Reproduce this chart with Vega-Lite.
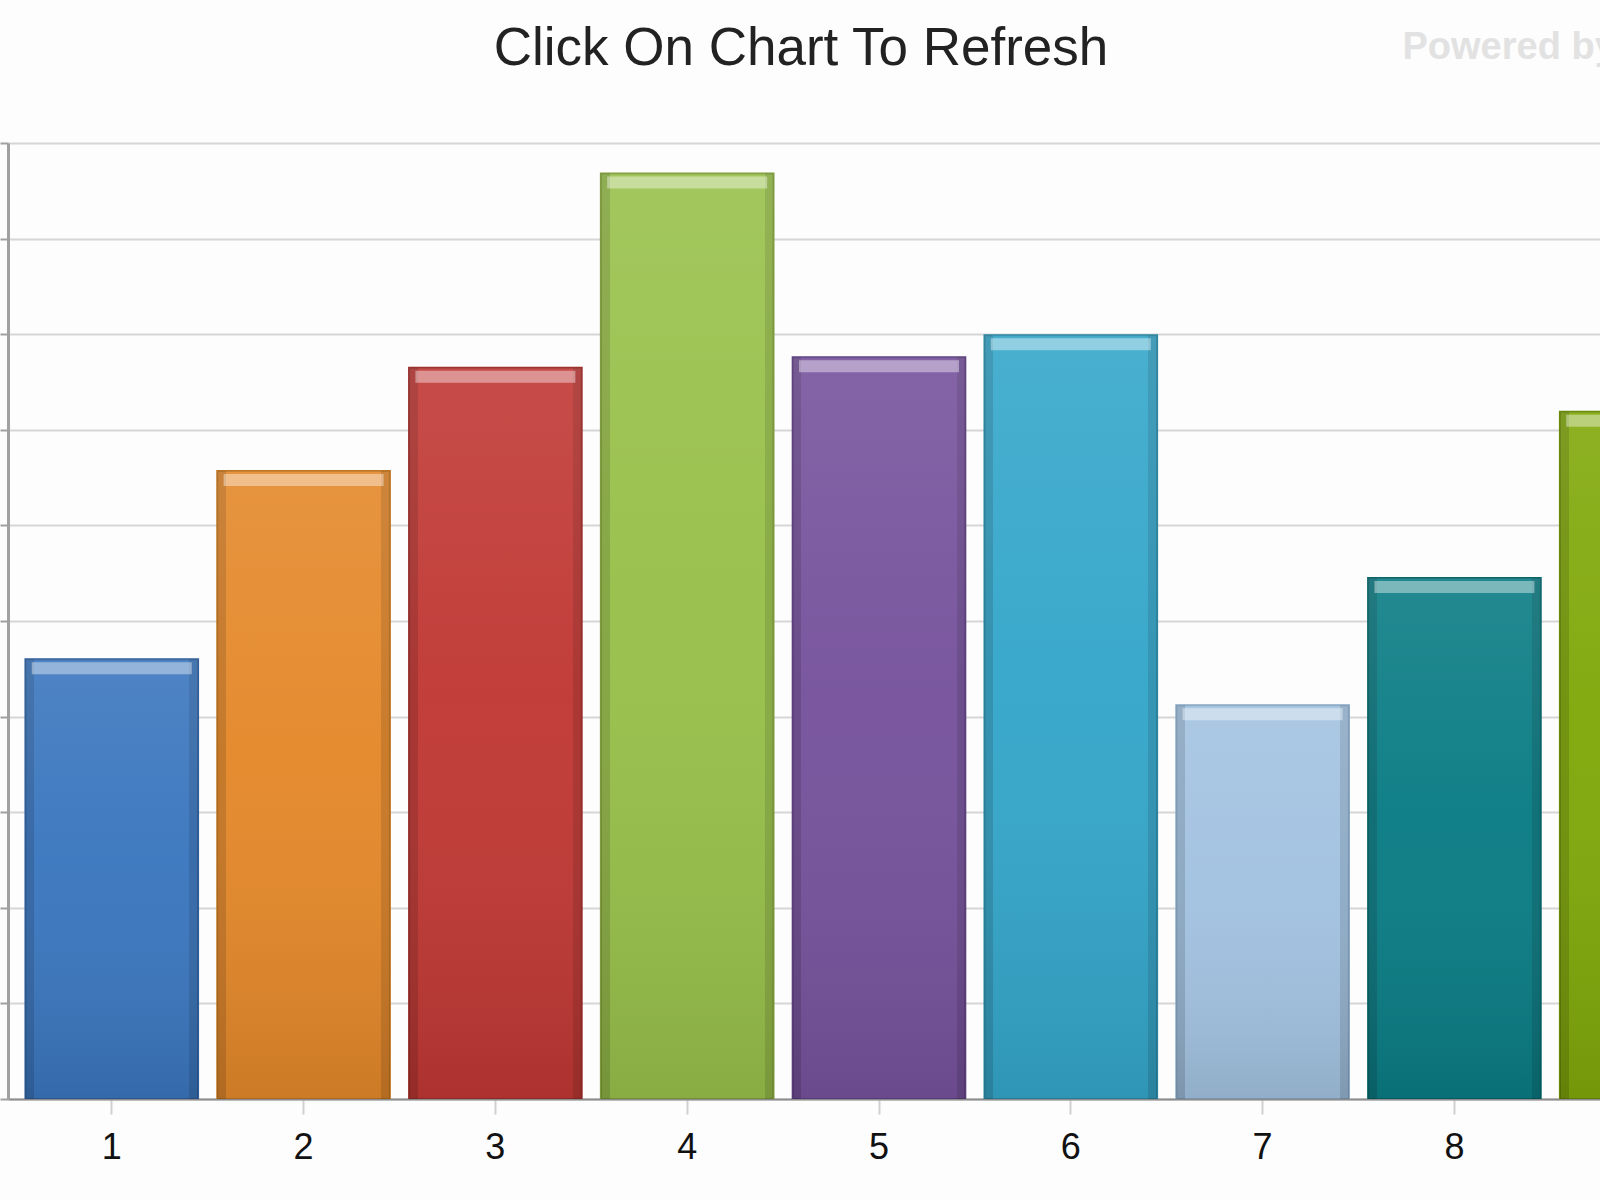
{
  "$schema": "https://vega.github.io/schema/vega-lite/v6.json",
  "autosize": {"type": "none"},
  "width": 1592,
  "height": 956,
  "padding": {"left": 8, "top": 143, "right": 0, "bottom": 101},
  "background": "#fdfdfd",
  "title": {
    "text": "Click On Chart To Refresh",
    "anchor": "middle",
    "font": "Liberation Sans",
    "fontSize": 53,
    "fontWeight": "normal",
    "color": "#222222",
    "dx": -3,
    "dy": 52
  },
  "data": {
    "values": [
      {"item": "1", "value": 46},
      {"item": "2", "value": 65.7},
      {"item": "3", "value": 76.5},
      {"item": "4", "value": 96.8},
      {"item": "5", "value": 77.6},
      {"item": "6", "value": 79.9},
      {"item": "7", "value": 41.2},
      {"item": "8", "value": 54.5},
      {"item": "9", "value": 71.9}
    ]
  },
  "encoding": {
    "x": {
      "field": "item",
      "type": "nominal",
      "sort": null,
      "scale": {"range": [0, 1742], "paddingInner": 0.1, "paddingOuter": 0.091},
      "axis": {
        "title": null,
        "labelAngle": 0,
        "labelFont": "Liberation Sans",
        "labelFontSize": 36,
        "labelColor": "#111111",
        "labelPadding": 16,
        "domainColor": "#8c8c8c",
        "domainWidth": 2,
        "tickColor": "#d0d0d0",
        "tickSize": 15,
        "tickWidth": 2
      }
    },
    "y": {
      "field": "value",
      "type": "quantitative",
      "scale": {"domain": [0, 100], "nice": false},
      "axis": {
        "title": "Powered by",
        "titleAngle": 0,
        "titleAlign": "left",
        "titleBaseline": "middle",
        "titleX": 1394,
        "titleY": -96,
        "titleFont": "Liberation Sans",
        "titleFontSize": 38,
        "titleFontWeight": "bold",
        "titleColor": "#e2e2e2",
        "tickCount": 10,
        "labels": false,
        "domainColor": "#a0a0a0",
        "domainWidth": 3,
        "tickColor": "#a0a0a0",
        "tickSize": 8,
        "tickWidth": 2,
        "gridColor": "#d6d6d6",
        "gridWidth": 2
      }
    }
  },
  "layer": [
    {
      "mark": {"type": "bar", "strokeWidth": 2, "clip": true},
      "encoding": {
        "fill": {
          "field": "item",
          "type": "nominal",
          "legend": null,
          "scale": {
            "domain": ["1", "2", "3", "4", "5", "6", "7", "8", "9"],
            "range": ["#3a76be", "#e4882a", "#c03834", "#98c04a", "#76529c", "#34a6ca", "#a2c2e0", "#0a7c84", "#80a80a"]
          }
        },
        "stroke": {
          "field": "item",
          "type": "nominal",
          "legend": null,
          "scale": {
            "domain": ["1", "2", "3", "4", "5", "6", "7", "8", "9"],
            "range": ["#2e5f9c", "#c0741e", "#9c2e2a", "#7f9f3c", "#5e4082", "#2a88a6", "#86a6c4", "#07656b", "#6a8a06"]
          }
        }
      }
    },
    {
      "mark": {
        "type": "bar",
        "clip": true,
        "fill": {
          "gradient": "linear",
          "x1": 0, "y1": 0, "x2": 1, "y2": 0,
          "stops": [
            {"offset": 0, "color": "rgba(0,0,0,0.14)"},
            {"offset": 0.05, "color": "rgba(0,0,0,0.14)"},
            {"offset": 0.051, "color": "rgba(0,0,0,0)"},
            {"offset": 0.949, "color": "rgba(0,0,0,0)"},
            {"offset": 0.95, "color": "rgba(0,0,0,0.12)"},
            {"offset": 1, "color": "rgba(0,0,0,0.12)"}
          ]
        }
      }
    },
    {
      "mark": {
        "type": "bar",
        "clip": true,
        "fill": {
          "gradient": "linear",
          "x1": 0, "y1": 0, "x2": 0, "y2": 1,
          "stops": [
            {"offset": 0, "color": "rgba(255,255,255,0.10)"},
            {"offset": 0.45, "color": "rgba(255,255,255,0.03)"},
            {"offset": 1, "color": "rgba(0,0,0,0.10)"}
          ]
        }
      }
    },
    {
      "mark": {
        "type": "tick",
        "clip": true,
        "color": "#ffffff",
        "opacity": 0.4,
        "thickness": 12,
        "size": 160,
        "yOffset": 9
      }
    }
  ],
  "config": {
    "view": {"stroke": null}
  }
}
